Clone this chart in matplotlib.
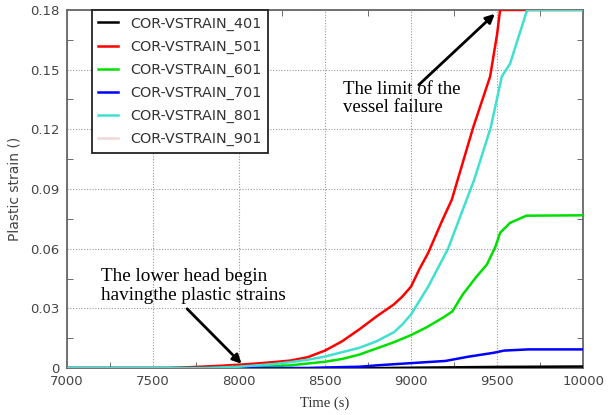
import matplotlib
matplotlib.use("Agg")
import matplotlib.pyplot as plt
from matplotlib.ticker import MultipleLocator, FuncFormatter

# Plastic strain histories at the lower head nodes (time in s)
t_401 = [7000, 8800, 9000, 9500, 10000]
v_401 = [0.0, 0.0, 0.0002, 0.0006, 0.0008]

t_501 = [7000, 7600, 7700, 7800, 7900, 8000, 8100, 8200, 8300, 8400, 8500,
         8600, 8700, 8800, 8900, 8950, 9000, 9050, 9100, 9180, 9236, 9361,
         9459, 9500, 9517, 10000]
v_501 = [0.0, 0.0, 0.0004, 0.0008, 0.0012, 0.0017, 0.0023, 0.003, 0.0038,
         0.0055, 0.0088, 0.0135, 0.0195, 0.026, 0.032, 0.036, 0.041, 0.050,
         0.058, 0.074, 0.0845, 0.121, 0.1465, 0.168, 0.18, 0.18]

t_601 = [7000, 7900, 8000, 8300, 8500, 8600, 8700, 8820, 8900, 9000, 9090,
         9190, 9240, 9300, 9380, 9440, 9490, 9517, 9575, 9670, 10000]
v_601 = [0.0, 0.0, 0.0003, 0.0014, 0.0032, 0.0046, 0.0068, 0.0105, 0.013,
         0.0166, 0.0205, 0.0256, 0.0285, 0.037, 0.046, 0.052, 0.061, 0.068,
         0.073, 0.0766, 0.0768]

t_701 = [7000, 8400, 8500, 8700, 8820, 9000, 9200, 9330, 9480, 9540, 9680, 10000]
v_701 = [0.0, 0.0, 0.0003, 0.0007, 0.0015, 0.0025, 0.0036, 0.0057, 0.0077,
         0.0088, 0.0094, 0.0094]

t_801 = [7000, 7800, 8000, 8200, 8300, 8400, 8500, 8600, 8700, 8800, 8900,
         8950, 9000, 9100, 9215, 9300, 9366, 9463, 9527, 9575, 9674, 10000]
v_801 = [0.0, 0.0, 0.0007, 0.002, 0.003, 0.0042, 0.0058, 0.008, 0.0102,
         0.0135, 0.018, 0.022, 0.027, 0.041, 0.060, 0.0795, 0.0945, 0.121,
         0.1465, 0.153, 0.18, 0.18]

t_901 = [7000, 10000]
v_901 = [0.0, 0.0]

series = [
    ("COR-VSTRAIN_401", t_401, v_401, "#000000", 3),
    ("COR-VSTRAIN_501", t_501, v_501, "#ff0000", 4),
    ("COR-VSTRAIN_601", t_601, v_601, "#00e000", 5),
    ("COR-VSTRAIN_701", t_701, v_701, "#0000ff", 6),
    ("COR-VSTRAIN_801", t_801, v_801, "#40e0d0", 7),
    ("COR-VSTRAIN_901", t_901, v_901, "#f0d8d8", 2),
]

fig = plt.figure(figsize=(6.12, 4.15), dpi=100)
ax = fig.add_axes([0.109, 0.113, 0.844, 0.863])

for label, t, v, color, z in series:
    ax.plot(t, v, color=color, lw=1.8, label=label, zorder=z)

ax.set_xlim(7000, 10000)
ax.set_ylim(0, 0.18)
ax.xaxis.set_major_locator(MultipleLocator(500))
ax.xaxis.set_minor_locator(MultipleLocator(250))
ax.yaxis.set_major_locator(MultipleLocator(0.03))
ax.yaxis.set_minor_locator(MultipleLocator(0.015))
ax.yaxis.set_major_formatter(FuncFormatter(lambda v, _: f"{v:.2f}" if v > 1e-9 else "0"))
ax.tick_params(which="both", direction="in", top=True, right=True,
               colors="#555555", labelcolor="#444444", labelsize=9.5)
ax.tick_params(which="major", length=0, pad=5)
ax.tick_params(which="minor", length=4)
ax.grid(True, which="major", ls=(0, (1, 1.5)), color="#999999", lw=0.8)
for sp in ax.spines.values():
    sp.set_color("#666666")
    sp.set_linewidth(1.3)

ax.set_xlabel("Time (s)", family="Liberation Serif", fontsize=10.5,
              color="#333333", labelpad=6)
ax.set_ylabel("Plastic strain ()", fontsize=10, color="#444444", labelpad=6)

leg = ax.legend(loc="upper left", bbox_to_anchor=(0.048, 1.0), borderaxespad=0,
                fancybox=False, framealpha=1, edgecolor="#222222",
                fontsize=10.4, handlelength=1.4, handletextpad=0.8,
                labelspacing=0.62, borderpad=0.45)
leg.get_frame().set_linewidth(1.3)
for txt in leg.get_texts():
    txt.set_color("#333333")

ax.annotate("", xy=(9498, 0.179), xytext=(9033, 0.1414),
            arrowprops=dict(arrowstyle="-|>", color="black", lw=2,
                            mutation_scale=13), zorder=10)
ax.text(8605, 0.1355, "The limit of the\nvessel failure", family="Liberation Serif",
        fontsize=13.5, va="center", ha="left", linespacing=1.15, zorder=11)

ax.annotate("", xy=(8027, 0.0012), xytext=(7688, 0.0308),
            arrowprops=dict(arrowstyle="-|>", color="black", lw=2,
                            mutation_scale=13), zorder=10)
ax.text(7202, 0.0412, "The lower head begin\nhavingthe plastic strains",
        family="Liberation Serif", fontsize=13.8, va="center", ha="left",
        linespacing=1.15, zorder=11)

fig.savefig("out.png", dpi=100)
